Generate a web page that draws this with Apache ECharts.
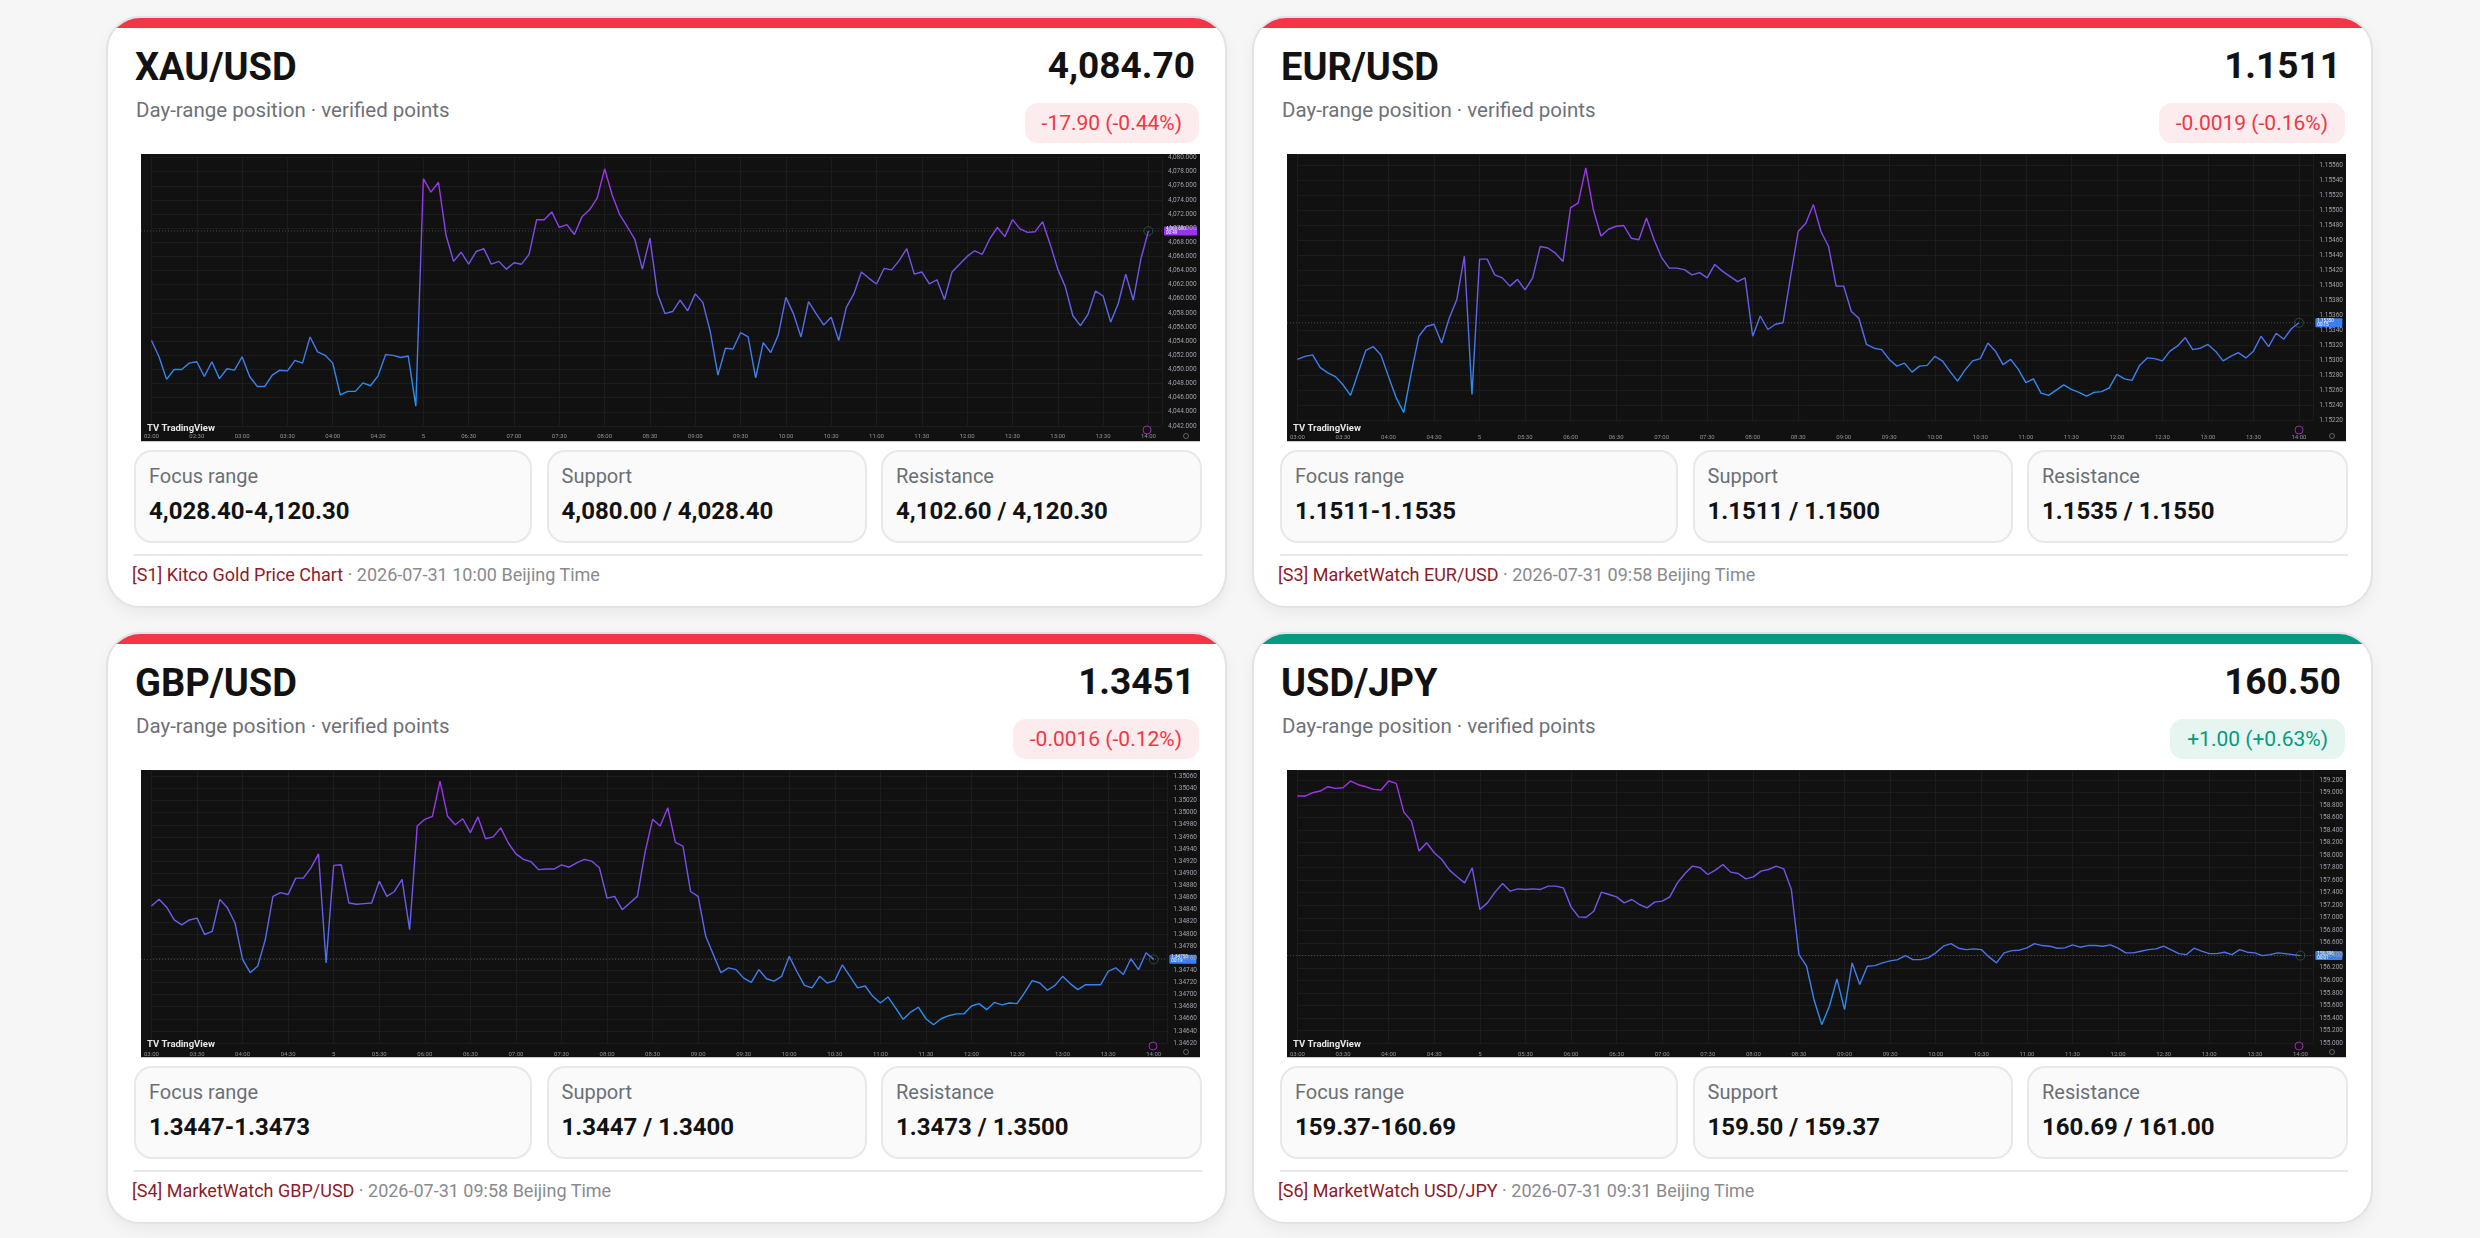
<!DOCTYPE html>
<html>
<head>
<meta charset="utf-8">
<script src="https://cdn.jsdelivr.net/npm/echarts@6/dist/echarts.min.js"></script>
<style>
html,body{margin:0;padding:0;width:2480px;height:1238px;overflow:hidden;background:#f6f6f7;font-family:Roboto,"Liberation Sans",sans-serif;}
.board{position:absolute;left:106px;top:16px;display:grid;grid-template-columns:1121px 1121px;grid-template-rows:592px 592px;column-gap:25px;row-gap:24px;}
.card{position:relative;background:#fff;border:2px solid #e1e3e7;border-radius:34px;overflow:hidden;box-shadow:0 6px 14px rgba(0,0,0,.05);}
.card .bar{position:absolute;left:0;top:0;right:0;height:10px;background:#f23645;}
.card.up .bar{background:#089981;}
.card h2{position:absolute;left:27px;top:30px;margin:0;font-size:38px;line-height:1;font-weight:700;color:#121212;}
.card .price{position:absolute;right:30px;top:29px;font-size:37px;line-height:1;font-weight:700;color:#121212;}
.card .sub{position:absolute;left:28px;top:82px;font-size:20.5px;line-height:1;color:#6e7179;}
.card .chg{position:absolute;right:26px;top:85px;height:40px;line-height:40px;padding:0 17px;border-radius:13px;background:#fdecee;color:#f23645;font-size:21px;}
.card.up .chg{background:#e7f5f0;color:#089981;}
.card .chart{position:absolute;left:33px;top:136px;width:1059px;height:287px;background:#111;border-bottom:1px solid #c9c9c9;}
.stats{position:absolute;left:26px;top:432px;width:1068px;height:93px;display:grid;grid-template-columns:398fr 320fr 321fr;column-gap:14.5px;}
.stat{background:#fafafa;border:2px solid #e6e8eb;border-radius:18px;padding:14px 0 0 13px;box-sizing:border-box;}
.stat .lab{font-size:20px;line-height:1;color:#6b6f76;}
.stat .val{font-size:24px;line-height:1;font-weight:700;color:#121212;margin-top:13px;}
.card .rule{position:absolute;left:26px;top:536px;width:1068px;height:2px;background:#e8e9ec;}
.card .foot{position:absolute;left:24px;top:548px;font-size:18px;line-height:1;color:#8a8a8e;}
.card .foot b{font-weight:400;color:#8e1b2a;}
</style>
</head>
<body>
<div class="board">

  <div class="card">
    <div class="bar"></div>
    <h2>XAU/USD</h2>
    <div class="price">4,084.70</div>
    <div class="sub">Day-range position · verified points</div>
    <div class="chg">-17.90 (-0.44%)</div>
    <div class="chart" id="xau"></div>
    <div class="stats">
      <div class="stat"><div class="lab">Focus range</div><div class="val">4,028.40-4,120.30</div></div>
      <div class="stat"><div class="lab">Support</div><div class="val">4,080.00 / 4,028.40</div></div>
      <div class="stat"><div class="lab">Resistance</div><div class="val">4,102.60 / 4,120.30</div></div>
    </div>
    <div class="rule"></div>
    <div class="foot"><b>[S1] Kitco Gold Price Chart</b> · 2026-07-31 10:00 Beijing Time</div>
  </div>

  <div class="card">
    <div class="bar"></div>
    <h2>EUR/USD</h2>
    <div class="price">1.1511</div>
    <div class="sub">Day-range position · verified points</div>
    <div class="chg">-0.0019 (-0.16%)</div>
    <div class="chart" id="eur"></div>
    <div class="stats">
      <div class="stat"><div class="lab">Focus range</div><div class="val">1.1511-1.1535</div></div>
      <div class="stat"><div class="lab">Support</div><div class="val">1.1511 / 1.1500</div></div>
      <div class="stat"><div class="lab">Resistance</div><div class="val">1.1535 / 1.1550</div></div>
    </div>
    <div class="rule"></div>
    <div class="foot"><b>[S3] MarketWatch EUR/USD</b> · 2026-07-31 09:58 Beijing Time</div>
  </div>

  <div class="card">
    <div class="bar"></div>
    <h2>GBP/USD</h2>
    <div class="price">1.3451</div>
    <div class="sub">Day-range position · verified points</div>
    <div class="chg">-0.0016 (-0.12%)</div>
    <div class="chart" id="gbp"></div>
    <div class="stats">
      <div class="stat"><div class="lab">Focus range</div><div class="val">1.3447-1.3473</div></div>
      <div class="stat"><div class="lab">Support</div><div class="val">1.3447 / 1.3400</div></div>
      <div class="stat"><div class="lab">Resistance</div><div class="val">1.3473 / 1.3500</div></div>
    </div>
    <div class="rule"></div>
    <div class="foot"><b>[S4] MarketWatch GBP/USD</b> · 2026-07-31 09:58 Beijing Time</div>
  </div>

  <div class="card up">
    <div class="bar"></div>
    <h2>USD/JPY</h2>
    <div class="price">160.50</div>
    <div class="sub">Day-range position · verified points</div>
    <div class="chg">+1.00 (+0.63%)</div>
    <div class="chart" id="jpy"></div>
    <div class="stats">
      <div class="stat"><div class="lab">Focus range</div><div class="val">159.37-160.69</div></div>
      <div class="stat"><div class="lab">Support</div><div class="val">159.50 / 159.37</div></div>
      <div class="stat"><div class="lab">Resistance</div><div class="val">160.69 / 161.00</div></div>
    </div>
    <div class="rule"></div>
    <div class="foot"><b>[S6] MarketWatch USD/JPY</b> · 2026-07-31 09:31 Beijing Time</div>
  </div>

</div>

<script type="text/javascript">
// one sample every 5 minutes, first sample at the first time label
var sampleMinutes = 5;

var xauTimes = ['02:00','02:30','03:00','03:30','04:00','04:30','5','06:30','07:00','07:30','08:00','08:30',
  '09:00','09:30','10:00','10:30','11:00','11:30','12:00','12:30','13:00','13:30','14:00'];
var fxTimes = ['03:00','03:30','04:00','04:30','5','05:30','06:00','06:30','07:00','07:30','08:00','08:30',
  '09:00','09:30','10:00','10:30','11:00','11:30','12:00','12:30','13:00','13:30','14:00'];

var xauValues = [4054.1,4051.8,4048.6,4050.0,4050.0,4050.9,4051.1,4049.0,4051.1,4048.7,
  4050.1,4049.9,4051.8,4049.0,4047.6,4047.6,4049.2,4049.9,4049.8,4051.3,
  4050.9,4054.6,4052.5,4052.0,4050.9,4046.4,4046.9,4046.9,4048.1,4047.7,
  4049.1,4052.1,4052.0,4051.7,4051.9,4044.8,4077.0,4075.1,4076.5,4069.0,
  4065.3,4066.6,4064.9,4066.7,4067.1,4064.9,4065.3,4064.2,4065.1,4064.9,
  4066.3,4071.2,4071.2,4072.3,4070.1,4070.5,4069.1,4071.6,4072.6,4074.2,
  4078.4,4074.7,4071.9,4070.2,4068.4,4064.2,4068.6,4060.7,4057.9,4058.2,
  4059.8,4058.3,4060.7,4059.5,4055.3,4049.2,4053.0,4052.9,4055.2,4054.6,
  4048.8,4053.8,4052.4,4054.9,4060.2,4057.9,4054.6,4059.6,4057.9,4056.3,
  4057.4,4054.1,4058.8,4060.7,4063.8,4062.9,4062.1,4064.3,4064.1,4065.4,
  4067.1,4063.5,4063.8,4062.1,4062.7,4059.9,4063.8,4064.9,4066.0,4066.8,
  4066.3,4068.5,4070.1,4068.8,4071.2,4069.9,4069.4,4069.5,4070.9,4067.7,
  4064.2,4061.7,4057.6,4056.2,4057.8,4061.1,4060.4,4056.7,4059.3,4063.5,
  4059.8,4065.6,4069.6];

var eurValues = [1.15301,1.15305,1.15307,1.15290,1.15283,1.15278,1.15267,1.15253,1.15283,1.15313,
  1.15318,1.15307,1.15278,1.15250,1.15230,1.15283,1.15332,1.15345,1.15348,1.15323,
  1.15356,1.15381,1.15439,1.15254,1.15435,1.15435,1.15414,1.15410,1.15399,1.15408,
  1.15394,1.15410,1.15452,1.15450,1.15443,1.15432,1.15504,1.15510,1.15557,1.15501,
  1.15466,1.15475,1.15479,1.15480,1.15463,1.15461,1.15490,1.15461,1.15437,1.15423,
  1.15423,1.15421,1.15414,1.15417,1.15410,1.15428,1.15419,1.15412,1.15405,1.15410,
  1.15332,1.15359,1.15341,1.15348,1.15350,1.15412,1.15472,1.15483,1.15508,1.15472,
  1.15452,1.15399,1.15399,1.15365,1.15356,1.15321,1.15316,1.15314,1.15301,1.15292,
  1.15296,1.15284,1.15292,1.15293,1.15305,1.15299,1.15285,1.15272,1.15287,1.15299,
  1.15302,1.15323,1.15312,1.15294,1.15301,1.15288,1.15270,1.15275,1.15256,1.15253,
  1.15260,1.15267,1.15261,1.15257,1.15252,1.15257,1.15258,1.15263,1.15281,1.15275,
  1.15273,1.15293,1.15303,1.15302,1.15299,1.15312,1.15319,1.15330,1.15314,1.15316,
  1.15321,1.15312,1.15299,1.15305,1.15310,1.15303,1.15312,1.15332,1.15318,1.15336,
  1.15328,1.15342,1.15350];

var gbpValues = [1.34846,1.34857,1.34844,1.34823,1.34815,1.34823,1.34826,1.34799,1.34804,1.34857,
  1.34843,1.34818,1.34758,1.34736,1.34747,1.34791,1.34862,1.34868,1.34865,1.34892,
  1.34892,1.34909,1.34932,1.34752,1.34913,1.34914,1.34851,1.34849,1.34850,1.34851,
  1.34887,1.34862,1.34870,1.34890,1.34807,1.34978,1.34989,1.34994,1.35052,1.34994,
  1.34980,1.34990,1.34967,1.34993,1.34957,1.34960,1.34975,1.34950,1.34932,1.34923,
  1.34919,1.34906,1.34907,1.34907,1.34914,1.34910,1.34917,1.34923,1.34920,1.34909,
  1.34859,1.34862,1.34840,1.34851,1.34862,1.34934,1.34989,1.34978,1.35008,1.34951,
  1.34945,1.34870,1.34862,1.34796,1.34766,1.34736,1.34744,1.34741,1.34727,1.34720,
  1.34741,1.34726,1.34722,1.34730,1.34763,1.34738,1.34715,1.34711,1.34730,1.34719,
  1.34723,1.34749,1.34730,1.34711,1.34714,1.34697,1.34686,1.34696,1.34678,1.34659,
  1.34671,1.34679,1.34660,1.34650,1.34660,1.34665,1.34668,1.34668,1.34681,1.34685,
  1.34675,1.34687,1.34683,1.34686,1.34685,1.34703,1.34723,1.34719,1.34707,1.34715,
  1.34730,1.34718,1.34708,1.34716,1.34716,1.34716,1.34738,1.34744,1.34733,1.34759,
  1.34741,1.34769,1.34758];

var jpyValues = [158.944,158.944,158.997,159.024,159.093,159.067,159.077,159.184,159.125,159.093,
  159.051,159.040,159.184,159.147,158.688,158.544,158.065,158.198,158.038,157.931,
  157.761,157.654,157.558,157.798,157.132,157.238,157.409,157.547,157.425,157.462,
  157.452,157.462,157.452,157.505,157.505,157.478,157.174,157.015,157.009,157.105,
  157.409,157.372,157.334,157.238,157.292,157.212,157.158,157.249,157.265,157.334,
  157.558,157.707,157.825,157.798,157.691,157.761,157.851,157.729,157.707,157.622,
  157.654,157.745,157.771,157.825,157.782,157.452,156.412,156.226,155.682,155.293,
  155.586,156.023,155.533,156.279,155.933,156.226,156.236,156.279,156.311,156.332,
  156.396,156.332,156.332,156.359,156.439,156.546,156.588,156.514,156.492,156.503,
  156.492,156.375,156.279,156.439,156.476,156.482,156.519,156.588,156.556,156.546,
  156.514,156.519,156.567,156.530,156.556,156.556,156.546,156.567,156.514,156.439,
  156.439,156.466,156.492,156.503,156.546,156.487,156.428,156.412,156.514,156.466,
  156.428,156.428,156.450,156.412,156.492,156.450,156.439,156.396,156.412,156.439,
  156.428,156.412,156.396];

function fmtXau(v) {
  return v.toLocaleString('en-US', {minimumFractionDigits: 3, maximumFractionDigits: 3});
}

function drawChart(id, values, times, axis, look) {
  var chart = echarts.init(document.getElementById(id));
  var lastIdx = values.length - 1;
  var last = values[lastIdx];
  var width = chart.getWidth();
  var onStep = function (v) {
    var k = (v - axis.min) / axis.step;
    return Math.abs(k - Math.round(k)) < 1e-4;
  };
  chart.setOption({
    animation: false,
    backgroundColor: '#111111',
    grid: {left: look.left, right: look.right, top: look.top, bottom: look.bottom},
    xAxis: {
      type: 'value', min: 0, max: look.xMax, interval: 30,
      axisLine: {show: false}, axisTick: {show: false},
      splitLine: {lineStyle: {color: '#1c1c1c', width: 1}},
      axisLabel: {
        fontSize: 6, color: '#8f929b', margin: look.labelGap, fontFamily: 'Roboto',
        formatter: function (v) { var k = v / 30; return (k === Math.round(k) && times[k]) ? times[k] : ''; }
      }
    },
    yAxis: {
      type: 'value', position: 'right', min: axis.min, max: axis.max, interval: axis.step,
      axisLine: {show: false}, axisTick: {show: false},
      splitLine: {lineStyle: {color: '#1c1c1c', width: 1}},
      axisLabel: {
        fontSize: 6.5, color: '#9ea1aa', margin: 6, fontFamily: 'Roboto',
        formatter: function (v) { return onStep(v) ? axis.fmt(v) : ''; }
      }
    },
    series: [{
      type: 'line',
      data: values.map(function (v, i) { return [i * sampleMinutes, v]; }),
      showSymbol: false,
      lineStyle: {
        width: 1.4,
        color: new echarts.graphic.LinearGradient(0, 0, 0, 1, [
          {offset: 0, color: '#a52cf0'},
          {offset: 0.5, color: '#6a5bea'},
          {offset: 1, color: '#1f96f0'}
        ])
      }
    }]
  });

  // price line and tag at the last value, placed through the chart's own scales
  var lineL = chart.convertToPixel({gridIndex: 0}, [0, last]);
  var lineR = chart.convertToPixel({gridIndex: 0}, [look.xMax, last]);
  var endPt = chart.convertToPixel({gridIndex: 0}, [lastIdx * sampleMinutes, last]);
  chart.setOption({
    graphic: [
      {type: 'line', shape: {x1: 0, y1: lineL[1], x2: lineR[0], y2: lineR[1]},
        style: {stroke: 'rgba(150,150,170,0.4)', lineWidth: 1, lineDash: [1, 2]}},
      {type: 'circle', shape: {cx: endPt[0], cy: endPt[1], r: 4.5},
        style: {fill: 'none', stroke: 'rgba(40,90,70,0.8)', lineWidth: 1}},
      {type: 'group', x: lineR[0] + 2, y: lineR[1] - 4.5, children: [
        {type: 'rect', shape: {x: 0, y: 0, width: look.right - 5, height: 9, r: 1}, style: {fill: look.tag}},
        {type: 'text', x: 2, y: 0.5, style: {text: axis.fmt(last) + '\n' + look.clock, fill: '#fff', font: '4.5px Roboto', lineHeight: 4}}
      ]},
      {type: 'text', x: 6, y: 275, style: {text: 'TV TradingView', fill: '#e6e6e6', font: 'bold 9.5px Roboto', verticalAlign: 'middle'}},
      {type: 'circle', shape: {cx: width - look.right - 15, cy: 276, r: 4}, style: {fill: 'none', stroke: '#9c27b0', lineWidth: 1}},
      {type: 'circle', shape: {cx: width - 14, cy: 282, r: 2.5}, style: {fill: 'none', stroke: '#777', lineWidth: 0.8}}
    ]
  });
}

drawChart('xau', xauValues, xauTimes,
  {min: 4042, max: 4080, step: 2, fmt: fmtXau},
  {left: 5, right: 38, top: 1, bottom: 15, xMax: 669, labelGap: 7, tag: '#9933ee', clock: '00:49'});
drawChart('eur', eurValues, fxTimes,
  {min: 1.1522, max: 1.155756, step: 0.0002, fmt: function (v) { return v.toFixed(5); }},
  {left: 7, right: 32, top: 0, bottom: 21, xMax: 669.5, labelGap: 14, tag: '#3d7ff0', clock: '00:15'});
drawChart('gbp', gbpValues, fxTimes,
  {min: 1.3462, max: 1.350704, step: 0.0002, fmt: function (v) { return v.toFixed(5); }},
  {left: 6, right: 32, top: 0, bottom: 14, xMax: 669, labelGap: 8, tag: '#3d7ff0', clock: '00:19'});
drawChart('jpy', jpyValues, fxTimes,
  {min: 155, max: 159.36, step: 0.2, fmt: function (v) { return v.toFixed(3); }},
  {left: 2, right: 32, top: 0, bottom: 14, xMax: 668.5, labelGap: 8, tag: '#3d7ff0', clock: '00:01'});
</script>
</body>
</html>
